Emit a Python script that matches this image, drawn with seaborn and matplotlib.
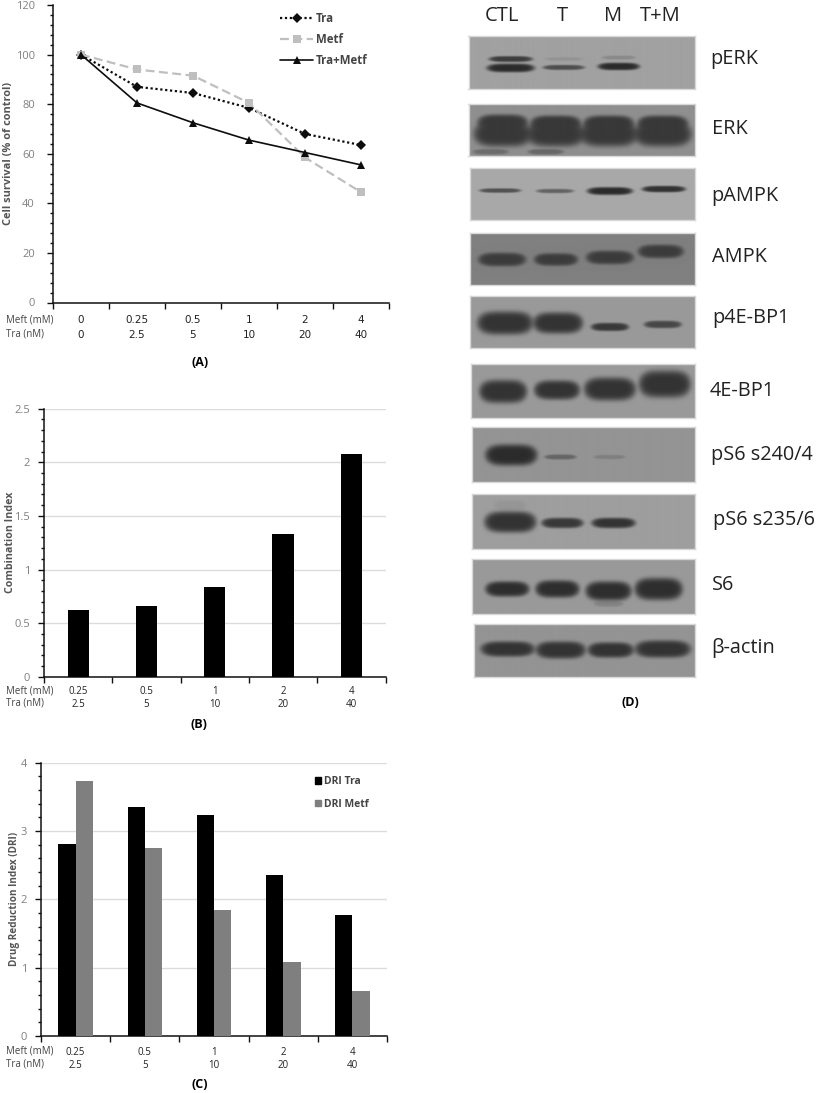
import numpy as np
import pandas as pd
import matplotlib
matplotlib.use("Agg")
import matplotlib.pyplot as plt
from matplotlib.patches import Patch
from matplotlib.ticker import MultipleLocator
import seaborn as sns

# ---------- data ----------
meft_a = ["0", "0.25", "0.5", "1", "2", "4"]
tra_a = ["0", "2.5", "5", "10", "20", "40"]
survival_tra = [100, 87, 84.5, 78.5, 68, 63.5]
survival_metf = [100, 94, 91.5, 80.5, 58.5, 44.5]
survival_combo = [100, 80.5, 72.5, 65.5, 60.5, 55.5]

meft_bc = ["0.25", "0.5", "1", "2", "4"]
tra_bc = ["2.5", "5", "10", "20", "40"]
combination_index = [0.62, 0.66, 0.84, 1.33, 2.08]
dri_tra = [2.81, 3.35, 3.24, 2.35, 1.77]
dri_metf = [3.73, 2.75, 1.85, 1.09, 0.66]

lanes = ["CTL", "T", "M", "T+M"]
lane_x = [502, 562, 613, 660]

# blot bands, reference pixels: centre x, centre y, half width, half height, strength
perk = [(510, 59, 21, 2.2, .85), (510, 68, 23, 3.6, 1), (563, 67.5, 20, 1.8, .7), (563, 59, 18, 1, .12),
        (618, 66.5, 20, 3, 1), (618, 57.5, 16, 1.2, .2)]
erk = [(502, 134, 28, 12, 1), (555, 134, 28, 12, 1), (608, 134, 28, 12, 1), (662, 134, 28, 12, 1),
       (502, 122, 24, 7, 1), (555, 123, 24, 7, 1), (608, 123, 24, 7, 1), (662, 123, 24, 7, 1),
       (490, 152, 17, 2, .4), (545, 152, 17, 2, .45)]
pampk = [(500, 190.5, 20, 1.5, .7), (555, 191, 18, 1.4, .55), (610, 191, 22, 3.2, 1), (664, 189, 21, 2.5, .95)]
ampk = [(502, 260, 23, 6, .95), (556, 260, 21, 5.5, .95), (610, 258, 23, 6, .95), (661, 252, 22, 6, .95)]
p4ebp1 = [(505, 323, 27, 11, 1), (558, 323, 24, 10, 1), (610, 327, 18, 3.4, .95), (663, 324.5, 18, 3, .8)]
ebp1 = [(503, 391.5, 23, 11, 1), (557, 390, 22, 9, 1), (610, 389, 25, 11, 1), (665, 384, 25, 13, 1)]
ps6_240 = [(511, 455, 25, 10, 1), (560, 457, 15, 1.8, .45), (609, 457, 15, 1.4, .2)]
ps6_235 = [(510, 522, 25, 10, 1), (562, 523, 20, 4.5, .95), (613, 523, 21, 4.5, 1), (510, 505, 15, 4, .08)]
s6 = [(507, 589, 21, 7, 1), (557, 589, 21, 8, 1), (608, 591, 22, 9, 1), (658, 589, 23, 10.5, 1), (608, 604, 14, 2, .2)]
actin = [(507, 649, 26, 7, 1), (560, 650, 24, 8, 1), (610, 650, 22, 7, 1), (662, 649, 27, 8, 1)]

blot_names = ["pERK", "ERK", "pAMPK", "AMPK", "p4E-BP1", "4E-BP1",
              "pS6 s240/4", "pS6 s235/6", "S6", "β-actin"]
blot_bands = [perk, erk, pampk, ampk, p4ebp1, ebp1, ps6_240, ps6_235, s6, actin]
blot_boxes = [(468.5, 36, 695, 89), (468.5, 104, 695, 156), (470, 168, 695, 220), (470, 233, 695, 285),
              (470, 296, 695, 348), (471, 364, 695, 418), (472, 427, 695, 482), (472, 494, 695, 549),
              (472, 559, 695, 614), (473.5, 624, 695, 677)]
blot_bg = [.63, .56, .66, .50, .60, .60, .58, .62, .60, .58]
blot_ink = [.17, .22, .17, .22, .20, .20, .17, .20, .18, .20]
label_x = [710, 712, 711, 712, 712, 710, 711, 713, 712, 711]
label_y = [59, 129, 196, 257, 318, 391, 455, 520, 585, 648]

# ---------- layout ----------
W, H = 827, 1093
sns.set_theme(style="ticks")
plt.rcParams["font.family"] = ["Open Sans", "DejaVu Sans"]
fig = plt.figure(figsize=(W / 100, H / 100), dpi=100, facecolor="white")


def px_axes(l, t, r, b):
    return fig.add_axes([l / W, 1 - b / H, (r - l) / W, (b - t) / H])


def fig_text(x, y, s, **kw):
    kw.setdefault("va", "center")
    fig.text(x / W, 1 - y / H, s, **kw)


def style_axes(ax, meft, tra, ls, minor, spacing, pad, xfont=None, xsize=7):
    n = len(meft)
    sns.despine(ax=ax)
    for s in ("left", "bottom"):
        ax.spines[s].set_linewidth(1.1)
        ax.spines[s].set_color("#111111")
    ax.yaxis.set_minor_locator(MultipleLocator(minor))
    ax.tick_params(axis="y", which="major", length=4, width=1, color="#111111",
                   labelsize=8, labelcolor="#808080", pad=pad)
    ax.tick_params(axis="y", which="minor", left=True, length=2, width=1, color="#111111")
    ax.set_xticks(np.arange(n))
    ax.set_xticklabels([f"{m}\n{t}" for m, t in zip(meft, tra)], linespacing=ls)
    ax.set_xlim(-.5, n - .5)
    ax.set_xticks(np.arange(n + 1) - .5, minor=True)
    ax.tick_params(axis="x", which="major", length=0, labelsize=xsize, labelcolor="#222222", pad=spacing)
    ax.tick_params(axis="x", which="minor", bottom=True, length=4, width=1, color="#111111")
    ax.set_xlabel("")
    if xfont:
        for t in ax.get_xticklabels():
            t.set_fontfamily(xfont)


# ---------- panel A ----------
ax_a = px_axes(53, 5, 389, 302.5)
doses = list(range(len(meft_a)))
df_a = pd.DataFrame({
    "dose": doses * 3,
    "survival": survival_tra + survival_metf + survival_combo,
    "series": ["Tra"] * 6 + ["Metf"] * 6 + ["Tra+Metf"] * 6,
})
sns.lineplot(data=df_a, x="dose", y="survival", hue="series", style="series", ax=ax_a,
             palette={"Tra": "#0d0d0d", "Metf": "#bfbfbf", "Tra+Metf": "#0d0d0d"},
             dashes={"Tra": (1, 1.2), "Metf": (4, 2), "Tra+Metf": ""},
             markers={"Tra": "D", "Metf": "s", "Tra+Metf": "^"},
             linewidth=1.6, markersize=5.5, markeredgewidth=0, markeredgecolor="none",
             errorbar=None)
ax_a.set_ylim(0, 120)
ax_a.set_yticks(range(0, 121, 20))
style_axes(ax_a, meft_a, tra_a, 1.6, 4, 9, 9, "DejaVu Sans", 7.5)
ax_a.set_ylabel("Cell survival (% of control)", fontsize=7.9, fontweight="bold", color="#555555")
ax_a.yaxis.set_label_coords((14 - 53) / 336, .5)
h, l = ax_a.get_legend_handles_labels()
ax_a.lines[2].set_linewidth(1.2)
h[2].set_linewidth(1.2)
ax_a.legend(h, l, frameon=False, loc="upper left", bbox_to_anchor=(270 / W, 1 - 1.5 / H),
            bbox_transform=fig.transFigure, labelspacing=.72, handlelength=2.8,
            handletextpad=.3, labelcolor="#444444", prop={"weight": "bold", "size": 8.3})

# ---------- panel B ----------
ax_b = px_axes(44, 408.7, 385.5, 676.7)
df_b = pd.DataFrame({"dose": meft_bc, "ci": combination_index})
sns.barplot(data=df_b, x="dose", y="ci", color="black", saturation=1, width=.31, ax=ax_b,
            zorder=3, linewidth=0)
ax_b.set_ylim(0, 2.5)
ax_b.set_yticks(np.arange(0, 2.6, .5))
ax_b.set_yticklabels(["0", "0.5", "1", "1.5", "2", "2.5"])
style_axes(ax_b, meft_bc, tra_bc, 1.15, .1, 7, 6)
ax_b.yaxis.grid(True, color="#dcdcdc", lw=1)
ax_b.set_axisbelow(True)
ax_b.set_ylabel("Combination Index", fontsize=7.7, fontweight="bold", color="#555555")
ax_b.yaxis.set_label_coords((16 - 44) / 341.5, .5)

# ---------- panel C ----------
ax_c = px_axes(41, 762.7, 387, 1036)
df_c = pd.DataFrame({
    "dose": meft_bc * 2,
    "dri": dri_tra + dri_metf,
    "series": ["DRI Tra"] * 5 + ["DRI Metf"] * 5,
})
sns.barplot(data=df_c, x="dose", y="dri", hue="series", width=.5, saturation=1, ax=ax_c, zorder=3,
            linewidth=0, palette={"DRI Tra": "black", "DRI Metf": "#7f7f7f"})
ax_c.set_ylim(0, 4)
ax_c.set_yticks(range(5))
style_axes(ax_c, meft_bc, tra_bc, 1.2, .2, 8, 6)
ax_c.yaxis.grid(True, color="#dcdcdc", lw=1)
ax_c.set_axisbelow(True)
ax_c.set_ylabel("Drug Reduction Index (DRI)", fontsize=7.2, fontweight="bold", color="#555555")
ax_c.yaxis.set_label_coords((20 - 41) / 346, .5)
ax_c.legend(handles=[Patch(color="black", label="DRI Tra"), Patch(color="#7f7f7f", label="DRI Metf")],
            frameon=False, loc="upper left", bbox_to_anchor=(306 / W, 1 - 767 / H),
            bbox_transform=fig.transFigure, labelspacing=1.1, handlelength=.5, handleheight=.6,
            handletextpad=.35, labelcolor="#444444", prop={"weight": "bold", "size": 7.5})

# row captions and panel letters
for y_m, y_t in ((320, 334), (691, 703), (1051, 1064)):
    fig_text(6, y_m, "Meft (mM)", fontsize=7, color="#444444")
    fig_text(6, y_t, "Tra (nM)", fontsize=7, color="#444444")
for x, y, s in ((200, 362, "(A)"), (199, 725, "(B)"), (200, 1085, "(C)"), (630, 703, "(D)")):
    fig_text(x, y, s, fontsize=9, fontweight="bold", color="black", ha="center")

# ---------- panel D (western blots) ----------
for name, bands, box, bg, ink, lx, ly in zip(blot_names, blot_bands, blot_boxes, blot_bg, blot_ink, label_x, label_y):
    l, t, r, b = box
    ax = px_axes(l, t, r, b)
    xs, ys = np.meshgrid(np.linspace(l, r, int(2 * (r - l))), np.linspace(t, b, int(2 * (b - t))))
    clear = np.ones_like(xs)
    for cx, cy, hw, hh, strength in bands:
        r2 = np.abs((xs - cx) / (hw + 1)) ** 4 + np.abs((ys - cy) / (hh + .8)) ** 2
        clear *= 1 - strength * np.exp(-r2 ** 2.5)
    img = bg * clear + ink * (1 - clear)
    ax.imshow(img, cmap="gray", vmin=0, vmax=1, extent=(l, r, b, t), aspect="auto", interpolation="bilinear")
    ax.set_xticks([])
    ax.set_yticks([])
    for s in ax.spines.values():
        s.set_color("#d8d8d8")
        s.set_linewidth(1)
    fig_text(lx, ly, name, fontsize=14.3, color="#222222")

for s, x in zip(lanes, lane_x):
    fig_text(x, 16, s, fontsize=14.5, color="#222222", ha="center")

fig.savefig("out.png", dpi=100, facecolor="white")
